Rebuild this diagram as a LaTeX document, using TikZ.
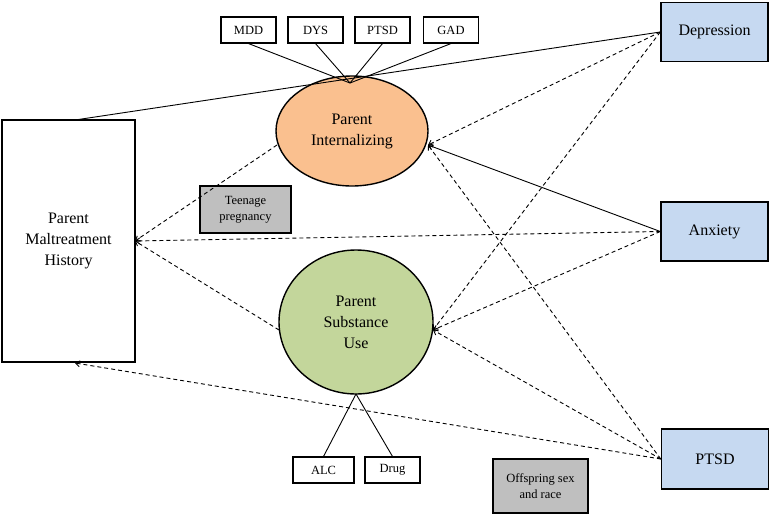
\documentclass[tikz,border=0pt]{standalone}
\usepackage{fontspec}
\setmainfont{Liberation Serif}
\usetikzlibrary{arrows.meta,shapes.geometric}
\definecolor{orng}{RGB}{250,192,143}
\definecolor{grn}{RGB}{195,214,155}
\definecolor{blu}{RGB}{198,217,241}
\definecolor{gry}{RGB}{191,191,191}
\begin{document}
\begin{tikzpicture}[x=1pt,y=-1pt,
 box/.style={draw,line width=1.4pt,inner sep=0pt,align=center},
 ind/.style={box,line width=1.1pt,minimum width=55pt,minimum height=26pt,font=\fontsize{12.5}{14}\selectfont},
 outc/.style={box,fill=blu,minimum width=107pt,minimum height=59pt,font=\fontsize{16}{19}\selectfont},
 cov/.style={box,fill=gry,font=\fontsize{12.5}{16}\selectfont},
 lat/.style={draw,line width=1.4pt,ellipse,inner sep=0pt,align=center,font=\fontsize{16}{21}\selectfont},
 arr/.style={-{Straight Barb[length=4pt,width=6pt]},line width=0.9pt},
 dsh/.style={arr,dash pattern=on 4pt off 3pt}]
\useasboundingbox (0,0) rectangle (771,515);
\node[box,minimum width=133pt,minimum height=242pt,font=\fontsize{16}{21}\selectfont] (pmh) at (68.5,241) {Parent\\Maltreatment\\History};
\node[lat,fill=orng,minimum width=152pt,minimum height=110pt] (pi) at (352,131) {Parent\\Internalizing};
\node[lat,fill=grn,minimum width=154pt,minimum height=144pt] (psu) at (356,322) {Parent\\Substance\\Use};
\node[ind] (mdd) at (248.5,30) {MDD};
\node[ind] (dys) at (315.5,30) {DYS};
\node[ind] (ptsdi) at (382.5,30) {PTSD};
\node[ind] (gad) at (451,30) {GAD};
\node[ind,minimum width=61pt] (alc) at (323.5,470) {ALC};
\node[ind] (drug) at (392.5,470) {Drug};
\node[outc] (dep) at (714.5,32) {Depression};
\node[outc] (anx) at (714.5,231.5) {Anxiety};
\node[outc,minimum height=60pt] (ptsd) at (715,459) {PTSD};
\node[cov,minimum width=91pt,minimum height=47pt] (teen) at (245.5,209.5) {Teenage\\pregnancy};
\node[cov,minimum width=95pt,minimum height=54pt] (off) at (540.5,486) {Offspring sex\\and race};
\coordinate (pitop) at (350,83);
\coordinate (psubot) at (356,394);
\foreach \n in {mdd,dys,ptsdi,gad} \draw[line width=0.9pt] (\n.south) -- (pitop);
\foreach \n in {alc,drug} \draw[line width=0.9pt] (\n.north) -- (psubot);
\coordinate (pmhtop) at (75,120);
\coordinate (pmhbot) at (75,363);
\coordinate (pmhr) at (135,241);
\coordinate (pir) at (428,145);
\coordinate (pil) at (277,145);
\coordinate (psur) at (433,330);
\coordinate (psul) at (279,330);
\draw[line width=0.9pt] (pmhtop) -- (dep.west);
\draw[arr] (anx.west) -- (pir);
\draw[dsh] (dep.west) -- (pir);
\draw[dsh] (dep.west) -- (psur);
\draw[dsh] (anx.west) -- (pmhr);
\draw[dsh] (anx.west) -- (psur);
\draw[dsh] (ptsd.west) -- (pir);
\draw[dsh] (ptsd.west) -- (psur);
\draw[dsh] (ptsd.west) -- (pmhbot);
\draw[dsh] (pil) -- (pmhr);
\draw[dsh] (psul) -- (pmhr);
\end{tikzpicture}
\end{document}
